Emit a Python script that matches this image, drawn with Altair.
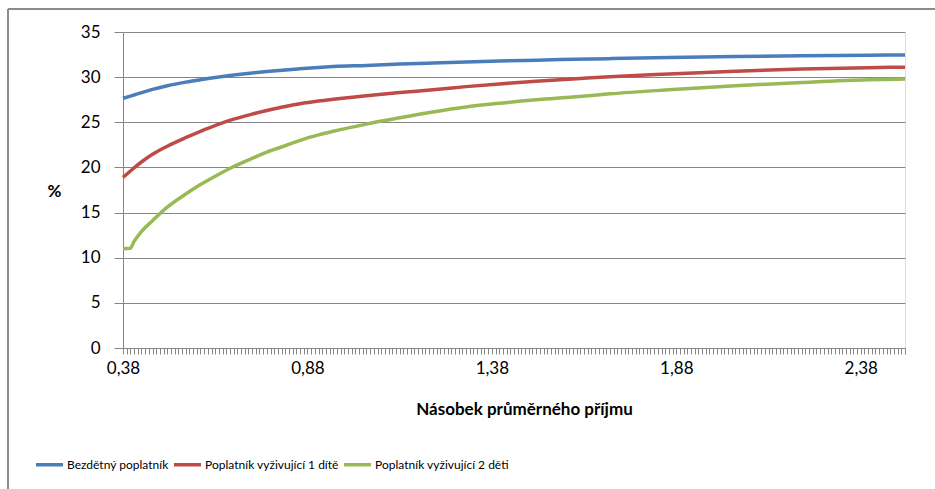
import altair as alt
import pandas as pd

# Income multiple (share of the average wage) at which the rates were read
multiple = [0.38, 0.40, 0.41, 0.43, 0.46, 0.50, 0.55, 0.59, 0.64, 0.68, 0.73,
            0.77, 0.82, 0.86, 0.91, 0.95, 1.04, 1.13, 1.22, 1.31, 1.40, 1.50,
            1.60, 1.70, 1.86, 2.04, 2.22, 2.40, 2.50]

# Effective rate (%) for each taxpayer type
childless = [27.65, 27.9, 28.02, 28.28, 28.65, 29.05, 29.45, 29.72, 30.02, 30.23, 30.46,
             30.62, 30.8, 30.93, 31.08, 31.18, 31.3, 31.45, 31.57, 31.68, 31.78, 31.88,
             31.97, 32.05, 32.17, 32.28, 32.37, 32.43, 32.45]
one_child = [18.9, 19.6, 19.95, 20.6, 21.45, 22.35, 23.3, 24.0, 24.8, 25.35, 25.9,
             26.3, 26.75, 27.05, 27.35, 27.55, 27.95, 28.3, 28.6, 28.95, 29.25, 29.55,
             29.8, 30.05, 30.35, 30.65, 30.9, 31.05, 31.1]
two_children = [11.0, 11.05, 11.8, 12.9, 14.1, 15.6, 17.05, 18.1, 19.25, 20.1, 21.0,
                21.7, 22.4, 23.0, 23.6, 24.0, 24.8, 25.5, 26.15, 26.7, 27.1, 27.5,
                27.8, 28.15, 28.6, 29.05, 29.4, 29.7, 29.8]

series_names = ["Bezdětný poplatník", "Poplatník vyživující 1 dítě",
                "Poplatník vyživující 2 děti"]
series_colors = ["#4A7EBB", "#BE4B48", "#98B954"]

# Category ticks every 0.01 along the income axis
tick_values = [round(0.38 + i * 0.01, 2) for i in range(213)]

rows = []
for name, vals in zip(series_names, [childless, one_child, two_children]):
    for m, v in zip(multiple, vals):
        rows.append({"nasobek": m, "sazba": v, "typ": name})
df = pd.DataFrame(rows)

AX = "#868686"

lines = alt.Chart(df).mark_line(strokeWidth=3.5, interpolate="monotone").encode(
    x=alt.X("nasobek:Q",
            scale=alt.Scale(domain=[0.38, 2.50], nice=False, zero=False),
            axis=alt.Axis(
                values=tick_values,
                labelExpr="round((datum.value - 0.38) * 100) % 50 == 0 ? replace(format(datum.value, '.2f'), '.', ',') : ''",
                labelOverlap=False, labelBound=False, labelFlush=False,
                grid=False, tickSize=6, tickColor=AX, domainColor=AX,
                labelFontSize=17, labelFont="Lato", labelColor="#000000",
                labelPadding=6,
                title="Násobek průměrného příjmu", titleFont="Lato",
                titleFontSize=17, titleFontWeight="bold", titleColor="#000000",
                titleX=401, titleY=66, titleAlign="center",
                titleBaseline="alphabetic")),
    y=alt.Y("sazba:Q",
            scale=alt.Scale(domain=[0, 35], nice=False),
            axis=alt.Axis(
                values=[0, 5, 10, 15, 20, 25, 30, 35],
                grid=True, gridColor=AX, gridWidth=1,
                tickSize=9, tickColor=AX, domainColor=AX,
                labelFontSize=17, labelFont="Lato", labelColor="#000000",
                labelPadding=14,
                title="%", titleAngle=0, titleFont="Lato", titleFontSize=17,
                titleFontWeight="bold", titleColor="#000000",
                titleX=-69, titleY=159, titleAlign="center",
                titleBaseline="middle")),
    color=alt.Color("typ:N",
                    scale=alt.Scale(domain=series_names, range=series_colors),
                    legend=alt.Legend(
                        orient="none", legendX=-89, legendY=417,
                        direction="horizontal", title=None,
                        symbolType="stroke", symbolSize=729,
                        symbolStrokeWidth=3.5, labelOffset=2,
                        columnPadding=-2, labelFontSize=12, labelLimit=0,
                        labelFont="Lato", labelColor="#000000")),
)

# Outer chart frame (left and top edges)
frame_left = alt.Chart(df).mark_rule(color="#8c8c8c", strokeWidth=2).encode(
    x=alt.value(-115), y=alt.value(-23), y2=alt.value(470))
frame_top = alt.Chart(df).mark_rule(color="#8c8c8c", strokeWidth=2).encode(
    x=alt.value(-115), x2=alt.value(820), y=alt.value(-23))

chart = alt.layer(lines, frame_left, frame_top).properties(
    width=782, height=316,
    autosize=alt.AutoSizeParams(type="none"),
    padding={"left": 123, "top": 32, "right": 30, "bottom": 141},
).configure_view(stroke=None).configure(background="white")

chart.save("out.html", embed_options={"renderer": "svg", "actions": False})
